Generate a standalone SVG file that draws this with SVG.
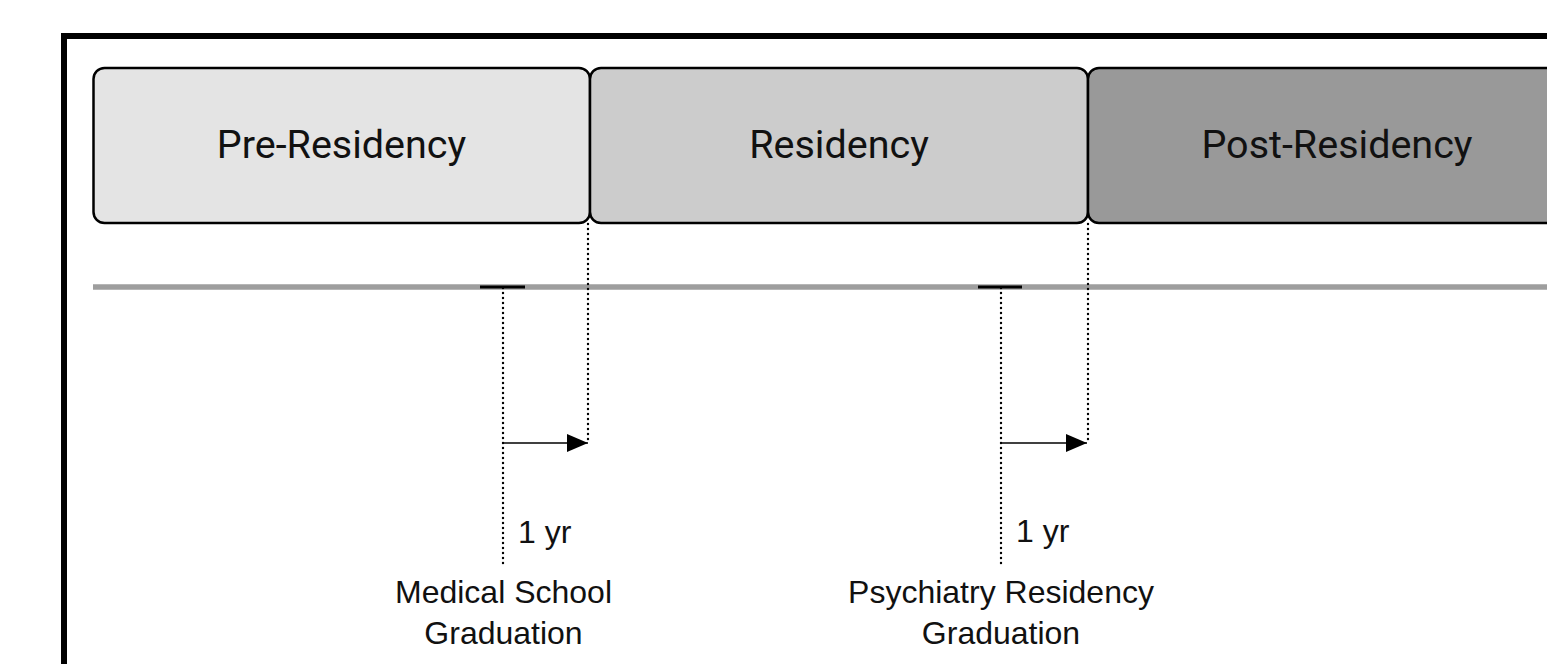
<svg xmlns="http://www.w3.org/2000/svg" width="1547" height="664" viewBox="0 0 1547 664">
<defs>
<style>
.phase{stroke:#000;stroke-width:2.5}
.ptext{font-family:Roboto,"Liberation Sans",sans-serif;font-size:39.5px;fill:#111;text-anchor:middle}
.label{font-family:"Liberation Sans",Arial,sans-serif;font-size:32px;fill:#111;text-anchor:middle}
.yr{font-family:"Liberation Sans",Arial,sans-serif;font-size:32px;fill:#111}
.dot{stroke:#000;stroke-width:2.4;stroke-dasharray:0.1 4.9;stroke-linecap:round;fill:none}
.tick{stroke:#000;stroke-width:3}
.arrow{stroke:#000;stroke-width:1.6;fill:none}
</style>
<marker id="ah" markerUnits="userSpaceOnUse" markerWidth="22" markerHeight="18" refX="21" refY="9" orient="auto">
<path d="M0,0 L21,9 L0,18 Z" fill="#000"/>
</marker>
</defs>
<rect width="1547" height="664" fill="#fff"/>
<rect x="64" y="36" width="1600" height="700" fill="none" stroke="#000" stroke-width="6"/>
<g id="pre-residency">
<rect class="phase" x="93.5" y="68" width="496.5" height="155" rx="11" fill="#e4e4e4"/>
<text class="ptext" x="341.5" y="158">Pre-Residency</text>
</g>
<g id="residency">
<rect class="phase" x="590" y="68" width="498" height="155" rx="11" fill="#cccccc"/>
<text class="ptext" x="839" y="158">Residency</text>
</g>
<g id="post-residency">
<rect class="phase" x="1088" y="68" width="498" height="155" rx="11" fill="#999999"/>
<text class="ptext" x="1337" y="158">Post-Residency</text>
</g>
<g id="timeline">
<line x1="93" y1="287" x2="1560" y2="287" stroke="#9e9e9e" stroke-width="5.5"/>
</g>
<g id="connectors">
<line class="tick" x1="480" y1="287" x2="525" y2="287"/>
<line class="tick" x1="978" y1="287" x2="1022" y2="287"/>
<line class="dot" x1="503" y1="288" x2="503" y2="568"/>
<line class="dot" x1="588" y1="224" x2="588" y2="444"/>
<line class="dot" x1="1001" y1="288" x2="1001" y2="568"/>
<line class="dot" x1="1088" y1="224" x2="1088" y2="444"/>
<line class="arrow" x1="503" y1="443" x2="588" y2="443" marker-end="url(#ah)"/>
<line class="arrow" x1="1001" y1="443" x2="1087" y2="443" marker-end="url(#ah)"/>
</g>
<g id="med-school-grad">
<text class="yr" x="518" y="543">1 yr</text>
<text class="label" x="503.5" y="603">Medical School</text>
<text class="label" x="503.5" y="644">Graduation</text>
</g>
<g id="psych-residency-grad">
<text class="yr" x="1016" y="542">1 yr</text>
<text class="label" x="1001" y="603">Psychiatry Residency</text>
<text class="label" x="1001" y="644">Graduation</text>
</g>
</svg>
